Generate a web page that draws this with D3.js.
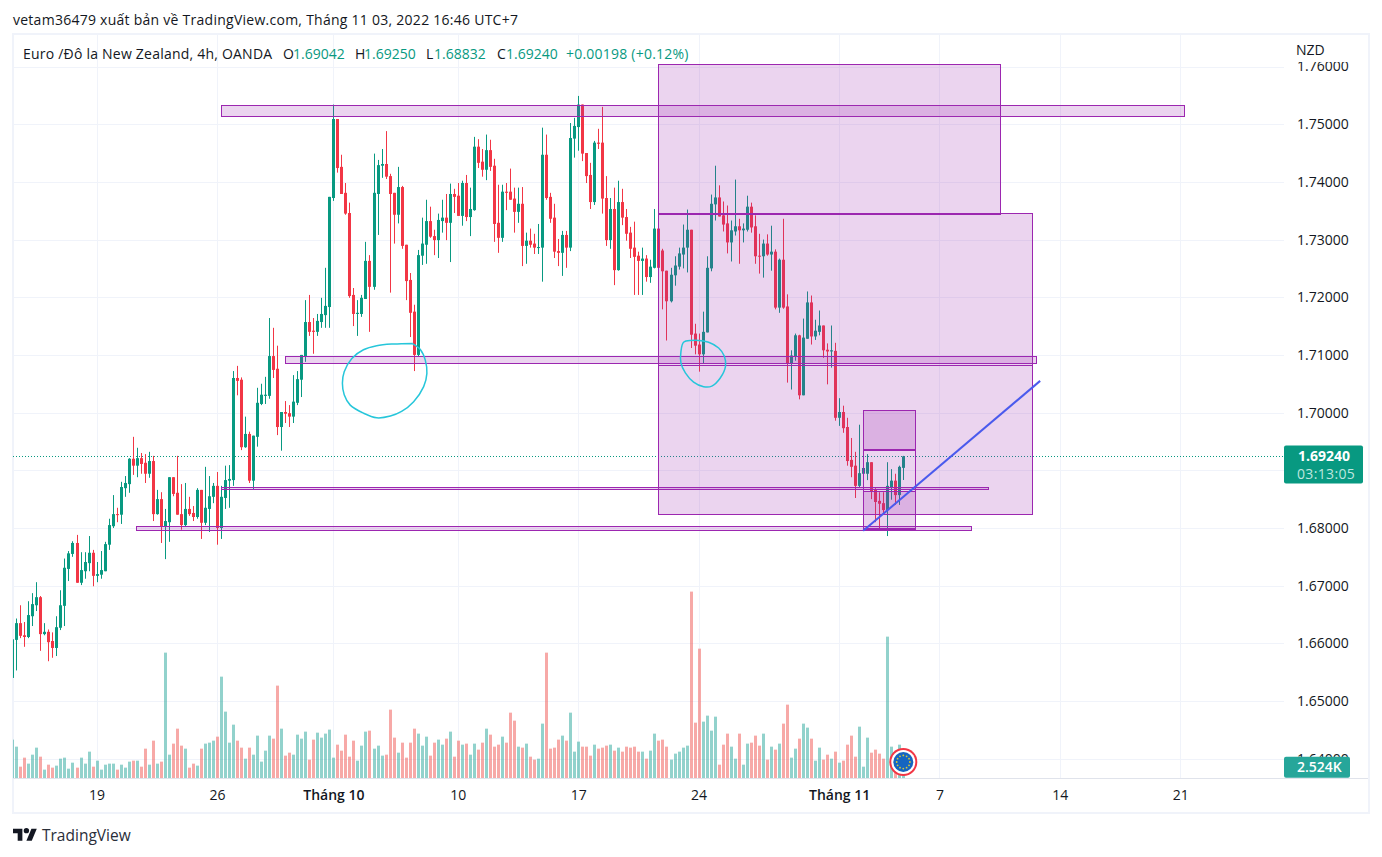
<!DOCTYPE html>
<html>
<head>
<meta charset="utf-8">
<title>EURNZD 4h</title>
<script src="https://cdn.jsdelivr.net/npm/d3@7/dist/d3.min.js"></script>
<style>
	html, body { margin: 0; padding: 0; background: #fff; }
	svg { display: block; }
	text { font-family: "Open Sans", sans-serif; fill: #131722; }
	.axis .domain { display: none; }
	.grid .domain { display: none; }
	.grid text { display: none; }
	.grid line { stroke: #f0f3fa; stroke-width: 1; shape-rendering: crispEdges; }
	.axis line { display: none; }
	.zone { shape-rendering: crispEdges; }
</style>
</head>
<body>
<div id="graphs"></div>
<script>
// bar 0 is the one cut off by the left edge of the pane, bar 222 is the live one
var opens = [
	1.6540,1.6606,1.6635,1.6614,1.6611,1.6647,1.6666,1.6680,1.6616,1.6620,
	1.6604,1.6592,1.6627,1.6665,1.6729,1.6755,1.6774,1.6705,1.6725,1.6739,
	1.6757,1.6717,1.6719,1.6725,1.6771,1.6803,1.6824,1.6823,1.6869,1.6876,
	1.6920,1.6908,1.6921,1.6913,1.6894,1.6916,1.6824,1.6850,1.6803,1.6810,
	1.6888,1.6861,1.6824,1.6805,1.6833,1.6826,1.6819,1.6866,1.6809,1.6833,
	1.6854,1.6873,1.6800,1.6852,1.6882,1.6883,1.7060,1.7057,1.6940,1.6963,
	1.6882,1.6958,1.7015,1.7029,1.7029,1.7098,1.7076,1.6975,1.7001,1.6999,
	1.6993,1.7017,1.7057,1.7098,1.7157,1.7142,1.7140,1.7157,1.7169,1.7183,
	1.7372,1.7509,1.7426,1.7381,1.7346,1.7204,1.7171,1.7171,1.7197,1.7263,
	1.7218,1.7379,1.7428,1.7431,1.7410,1.7381,1.7343,1.7391,1.7291,1.7230,
	1.7175,1.7100,1.7272,1.7291,1.7332,1.7306,1.7299,1.7332,1.7338,1.7329,
	1.7379,1.7376,1.7341,1.7398,1.7339,1.7351,1.7461,1.7435,1.7421,1.7455,
	1.7428,1.7329,1.7303,1.7383,1.7383,1.7371,1.7348,1.7362,1.7289,1.7298,
	1.7293,1.7286,1.7286,1.7447,1.7374,1.7338,1.7280,1.7277,1.7308,1.7286,
	1.7475,1.7495,1.7534,1.7450,1.7412,1.7365,1.7468,1.7468,1.7372,1.7299,
	1.7353,1.7247,1.7365,1.7339,1.7312,1.7286,1.7272,1.7263,1.7267,1.7235,
	1.7251,1.7319,1.7281,1.7246,1.7193,1.7238,1.7253,1.7274,1.7286,1.7317,
	1.7137,1.7118,1.7101,1.7139,1.7250,1.7361,1.7373,1.7342,1.7328,1.7295,
	1.7314,1.7323,1.7316,1.7317,1.7357,1.7323,1.7272,1.7271,1.7293,1.7274,
	1.7279,1.7182,1.7265,1.7184,1.7085,1.7097,1.7134,1.7030,1.7128,1.7191,
	1.7132,1.7140,1.7151,1.7109,1.7106,1.7107,1.6991,1.7001,1.6975,1.6918,
	1.6908,1.6873,1.6894,1.6894,1.6914,1.6866,1.6847,1.6843,1.6831,1.6871,
	1.6882,1.6857,1.69042
];
var highs = [
	1.6607,1.6643,1.6666,1.6637,1.6673,1.6687,1.6706,1.6682,1.6635,1.6624,
	1.6619,1.6647,1.6692,1.6747,1.6760,1.6777,1.6788,1.6758,1.6758,1.6786,
	1.6762,1.6741,1.6760,1.6776,1.6816,1.6857,1.6835,1.6880,1.6890,1.6921,
	1.6958,1.6939,1.6930,1.6928,1.6932,1.6925,1.6866,1.6862,1.6833,1.6888,
	1.6888,1.6925,1.6876,1.6878,1.6854,1.6838,1.6869,1.6866,1.6906,1.6890,
	1.6878,1.6897,1.6873,1.6908,1.6909,1.7072,1.7081,1.7061,1.6993,1.6967,
	1.6960,1.7043,1.7050,1.7062,1.7164,1.7147,1.7116,1.7001,1.7020,1.7013,
	1.7065,1.7072,1.7100,1.7195,1.7204,1.7164,1.7171,1.7199,1.7251,1.7374,
	1.7534,1.7509,1.7447,1.7398,1.7364,1.7216,1.7195,1.7204,1.7296,1.7273,
	1.7449,1.7438,1.7457,1.7488,1.7414,1.7381,1.7426,1.7393,1.7291,1.7242,
	1.7187,1.7282,1.7338,1.7369,1.7357,1.7317,1.7345,1.7369,1.7379,1.7397,
	1.7388,1.7398,1.7402,1.7412,1.7390,1.7478,1.7474,1.7457,1.7482,1.7473,
	1.7440,1.7395,1.7395,1.7398,1.7423,1.7390,1.7390,1.7391,1.7312,1.7319,
	1.7310,1.7327,1.7494,1.7482,1.7381,1.7362,1.7301,1.7315,1.7315,1.7502,
	1.7511,1.7549,1.7534,1.7450,1.7433,1.7471,1.7492,1.7530,1.7410,1.7372,
	1.7390,1.7402,1.7388,1.7353,1.7322,1.7331,1.7279,1.7286,1.7273,1.7265,
	1.7353,1.7329,1.7284,1.7246,1.7251,1.7271,1.7286,1.7326,1.7352,1.7317,
	1.7154,1.7137,1.7175,1.7271,1.7378,1.7428,1.7394,1.7366,1.7359,1.7333,
	1.7404,1.7336,1.7328,1.7376,1.7364,1.7342,1.7310,1.7300,1.7309,1.7324,
	1.7283,1.7267,1.7336,1.7205,1.7108,1.7137,1.7135,1.7163,1.7210,1.7203,
	1.7161,1.7177,1.7151,1.7120,1.7151,1.7121,1.7025,1.7012,1.6991,1.6956,
	1.6932,1.6979,1.6908,1.6928,1.6914,1.6869,1.6862,1.6862,1.6914,1.6902,
	1.6894,1.6908,1.69250
];
var lows = [
	1.6538,1.6553,1.6609,1.6594,1.6609,1.6630,1.6656,1.6587,1.6614,1.6569,
	1.6575,1.6578,1.6623,1.6630,1.6708,1.6750,1.6705,1.6701,1.6712,1.6725,
	1.6699,1.6706,1.6712,1.6725,1.6762,1.6800,1.6810,1.6807,1.6854,1.6861,
	1.6892,1.6888,1.6894,1.6878,1.6887,1.6812,1.6823,1.6774,1.6746,1.6776,
	1.6855,1.6823,1.6797,1.6803,1.6821,1.6812,1.6816,1.6781,1.6805,1.6793,
	1.6843,1.6771,1.6781,1.6833,1.6835,1.6873,1.7030,1.6935,1.6939,1.6878,
	1.6866,1.6941,1.7013,1.7015,1.7024,1.7060,1.6961,1.6934,1.6982,1.6975,
	1.6982,1.7013,1.7027,1.7088,1.7133,1.7102,1.7133,1.7147,1.7147,1.7147,
	1.7367,1.7416,1.7379,1.7343,1.7199,1.7150,1.7133,1.7166,1.7197,1.7140,
	1.7213,1.7308,1.7407,1.7405,1.7208,1.7293,1.7328,1.7284,1.7195,1.7131,
	1.7072,1.7098,1.7256,1.7258,1.7303,1.7273,1.7268,1.7312,1.7299,1.7261,
	1.7346,1.7341,1.7324,1.7332,1.7306,1.7350,1.7424,1.7409,1.7403,1.7419,
	1.7296,1.7277,1.7296,1.7351,1.7369,1.7312,1.7329,1.7254,1.7258,1.7286,
	1.7275,1.7275,1.7227,1.7369,1.7329,1.7268,1.7254,1.7237,1.7251,1.7280,
	1.7442,1.7454,1.7436,1.7398,1.7353,1.7360,1.7457,1.7345,1.7289,1.7284,
	1.7221,1.7246,1.7325,1.7298,1.7268,1.7204,1.7204,1.7204,1.7227,1.7225,
	1.7250,1.7250,1.7179,1.7125,1.7191,1.7220,1.7248,1.7250,1.7243,1.7112,
	1.7101,1.7071,1.7085,1.7139,1.7245,1.7333,1.7340,1.7314,1.7276,1.7262,
	1.7307,1.7258,1.7295,1.7314,1.7312,1.7258,1.7241,1.7234,1.7272,1.7246,
	1.7179,1.7173,1.7180,1.7052,1.7040,1.7090,1.7023,1.7030,1.7128,1.7118,
	1.7126,1.7134,1.7095,1.7049,1.7078,1.6986,1.6977,1.6965,1.6908,1.6888,
	1.6852,1.6871,1.6892,1.6883,1.6850,1.6810,1.6797,1.6823,1.6786,1.6849,
	1.6840,1.6840,1.68832
];
var closes = [
	1.6607,1.6635,1.6613,1.6611,1.6649,1.6668,1.6680,1.6616,1.6620,1.6602,
	1.6592,1.6628,1.6666,1.6731,1.6756,1.6774,1.6705,1.6727,1.6741,1.6757,
	1.6717,1.6720,1.6727,1.6772,1.6805,1.6824,1.6823,1.6871,1.6878,1.6920,
	1.6908,1.6921,1.6911,1.6894,1.6916,1.6824,1.6850,1.6803,1.6812,1.6888,
	1.6859,1.6823,1.6805,1.6833,1.6824,1.6819,1.6866,1.6809,1.6835,1.6855,
	1.6873,1.6800,1.6854,1.6883,1.6885,1.7060,1.7055,1.6940,1.6963,1.6882,
	1.6960,1.7017,1.7031,1.7031,1.7098,1.7074,1.6975,1.7001,1.6998,1.6993,
	1.7019,1.7058,1.7100,1.7157,1.7140,1.7140,1.7159,1.7171,1.7185,1.7374,
	1.7509,1.7424,1.7379,1.7345,1.7202,1.7171,1.7173,1.7199,1.7263,1.7218,
	1.7381,1.7429,1.7431,1.7409,1.7379,1.7343,1.7391,1.7289,1.7228,1.7173,
	1.7100,1.7273,1.7293,1.7332,1.7305,1.7299,1.7334,1.7338,1.7329,1.7379,
	1.7374,1.7341,1.7398,1.7339,1.7353,1.7461,1.7433,1.7421,1.7455,1.7426,
	1.7327,1.7303,1.7383,1.7381,1.7369,1.7348,1.7362,1.7289,1.7298,1.7291,
	1.7286,1.7287,1.7447,1.7372,1.7336,1.7279,1.7277,1.7308,1.7286,1.7476,
	1.7497,1.7534,1.7449,1.7410,1.7365,1.7468,1.7466,1.7371,1.7299,1.7353,
	1.7247,1.7365,1.7338,1.7310,1.7284,1.7270,1.7263,1.7267,1.7235,1.7253,
	1.7319,1.7251,1.7245,1.7193,1.7239,1.7255,1.7276,1.7286,1.7317,1.7135,
	1.7116,1.7101,1.7140,1.7251,1.7362,1.7373,1.7340,1.7326,1.7295,1.7316,
	1.7323,1.7316,1.7319,1.7357,1.7321,1.7271,1.7271,1.7293,1.7274,1.7279,
	1.7182,1.7265,1.7182,1.7085,1.7099,1.7134,1.7030,1.7130,1.7191,1.7132,
	1.7142,1.7151,1.7108,1.7106,1.7108,1.6991,1.7001,1.6973,1.6916,1.6906,
	1.6873,1.6895,1.6904,1.6914,1.6864,1.6845,1.6842,1.6831,1.6873,1.6882,
	1.6857,1.6906,1.69240
];
// thousands of ticks
var volumes = [
	8.63,7.05,2.55,4.58,3.23,5.25,6.83,4.80,1.88,3.00,
	2.33,2.78,4.35,4.58,2.10,3.45,2.33,4.58,3.23,5.93,
	2.55,3.90,1.88,3.00,3.23,3.23,1.88,3.00,2.33,3.68,
	3.90,3.90,2.55,6.60,3.00,8.40,3.23,3.68,28.20,5.25,
	7.73,11.10,7.28,6.60,2.33,3.23,2.78,6.60,7.73,7.95,
	8.40,9.30,22.80,14.93,7.95,12.00,8.40,6.83,4.35,6.83,
	5.25,9.53,3.68,6.15,9.53,8.85,20.78,11.10,5.03,5.70,
	5.25,9.75,8.85,10.43,4.13,8.63,10.20,9.08,9.98,10.88,
	4.58,7.50,6.15,9.75,4.80,8.40,3.90,7.28,10.43,10.65,
	6.60,7.28,5.03,5.25,15.38,9.08,5.70,7.95,4.58,7.95,
	11.10,9.98,7.28,9.30,5.03,7.95,8.63,7.50,8.85,10.43,
	4.80,8.40,7.50,7.73,5.25,7.73,6.38,7.95,11.10,9.75,
	7.05,7.50,9.30,7.95,14.70,12.90,7.05,6.83,7.73,4.80,
	4.13,4.35,12.23,28.20,6.60,6.83,8.63,9.53,8.40,14.70,
	5.93,8.18,7.05,7.05,5.03,7.50,6.60,6.83,7.28,7.50,
	6.15,6.83,5.93,7.05,6.83,7.05,5.93,5.93,4.35,6.15,
	9.98,8.40,8.63,7.05,4.13,5.48,5.93,6.83,7.28,41.93,
	12.45,29.10,12.68,14.03,10.65,13.80,3.00,7.50,9.98,7.05,
	4.35,9.98,3.00,7.73,7.95,9.53,7.28,9.98,4.13,7.05,
	6.38,7.73,12.23,16.50,4.58,6.60,8.85,12.23,11.33,8.85,
	3.90,6.83,4.13,5.25,4.35,5.93,3.45,3.90,7.50,9.53,
	4.80,11.55,2.55,9.08,5.70,6.38,5.48,4.35,31.80,7.05,
	5.93,7.50,2.524
];

var priceTicks = [1.64, 1.65, 1.66, 1.67, 1.68, 1.69, 1.70, 1.71, 1.72, 1.73, 1.74, 1.75, 1.76];
var timeTicks  = [21, 51, 80, 111, 141, 171, 206, 231, 261, 291];
var timeLabels = ["19", "26", "Tháng 10", "10", "17", "24", "Tháng 11", "7", "14", "21"];

// drawings, in bar number and price
var boxes = [
	{x0: 161, x1: 246.2, top: 1.7603, bottom: 1.73435, fill: 0.2},
	{x0: 161, x1: 254.2, top: 1.7346, bottom: 1.6823, fill: 0.2},
	{x0: 161, x1: 254.2, top: 1.70855, bottom: 1.70825, fill: 0},
	{x0: 52.1, x1: 292.1, top: 1.7532, bottom: 1.7514, fill: 0.2},
	{x0: 68, x1: 255.3, top: 1.7098, bottom: 1.7085, fill: 0.2},
	{x0: 52.2, x1: 243.2, top: 1.6871, bottom: 1.6866, fill: 0.2},
	{x0: 30.9, x1: 239, top: 1.6803, bottom: 1.6796, fill: 0.2},
	{x0: 212, x1: 225.1, top: 1.7004, bottom: 1.6936, fill: 0.2},
	{x0: 212, x1: 225.1, top: 1.69345, bottom: 1.6797, fill: 0},
	{x0: 212, x1: 225.1, top: 1.6864, bottom: 1.67985, fill: 0.2}
];
var trendLine = [[212, 1.6795], [256.1, 1.7055]];
var ringLeft = [[99.8,1.7120],[95,1.7119],[90.8,1.7116],[87.5,1.7109],[84.6,1.7094],[82.7,1.7071],[82.25,1.7051],[82.7,1.7031],[84.2,1.7013],[87.5,1.6999],[90.8,1.6991],[94.2,1.6994],[97,1.7002],[100,1.7019],[102.5,1.7045],[103.3,1.7068],[102.9,1.7091],[101.7,1.7109],[99.8,1.7119]];
var ringRight = [[168.9,1.7125],[167.25,1.7122],[166.6,1.7106],[166.6,1.7086],[167.7,1.7069],[169.75,1.7053],[172.25,1.7045],[174.3,1.7046],[176.4,1.7060],[177.7,1.7080],[177.4,1.7098],[176,1.7112],[173.5,1.7122],[171,1.7125],[168.9,1.7125]];

var upColor = "#089981", downColor = "#f23645";

var width = 1382, height = 857;
var pane = {left: 13, right: 1284, top: 35, bottom: 778};

var svg = d3.select("#graphs").append("svg")
	.attr("width", width)
	.attr("height", height);

var xScale = d3.scaleLinear().domain([1, 222]).range([16.3, 903.3]);
var yScale = d3.scaleLinear().domain([1.64, 1.76]).range([758.7, 66.5]);
var volScale = d3.scaleLinear().domain([0, 42]).range([778, 591.3]);

function snap(i) { return Math.round(xScale(i)); }

function drawGrid() {
	svg.append("g").attr("class", "grid")
		.attr("transform", "translate(" + pane.left + ",0)")
		.call(d3.axisRight(yScale).tickValues(priceTicks).tickSize(pane.right - pane.left));
	svg.append("g").attr("class", "grid")
		.attr("transform", "translate(0," + pane.bottom + ")")
		.call(d3.axisTop(xScale).tickValues(timeTicks).tickSize(pane.bottom - pane.top));
}

function drawVolumes(g) {
	g.selectAll(".vol").data(volumes).enter().append("rect")
		.attr("class", "vol")
		.attr("x", function(d, i) { return snap(i) - 1; })
		.attr("width", 3)
		.attr("y", function(d) { return volScale(d); })
		.attr("height", function(d) { return volScale(0) - volScale(d); })
		.attr("fill", function(d, i) { return closes[i] >= opens[i] ? "rgba(38,166,154,0.5)" : "rgba(239,83,80,0.5)"; });
}

function drawCandles(g) {
	var bars = g.selectAll(".bar").data(opens).enter().append("g").attr("class", "bar")
		.attr("fill", function(d, i) { return closes[i] >= opens[i] ? upColor : downColor; });
	bars.append("rect")
		.attr("x", function(d, i) { return snap(i); })
		.attr("width", 1)
		.attr("y", function(d, i) { return yScale(highs[i]); })
		.attr("height", function(d, i) { return yScale(lows[i]) - yScale(highs[i]); });
	bars.append("rect")
		.attr("x", function(d, i) { return snap(i) - 1; })
		.attr("width", 3)
		.attr("y", function(d, i) { return yScale(Math.max(opens[i], closes[i])); })
		.attr("height", function(d, i) { return Math.max(1, Math.abs(yScale(opens[i]) - yScale(closes[i]))); });
}

function drawDrawings(g) {
	g.selectAll(".zone").data(boxes).enter().append("rect")
		.attr("class", "zone")
		.attr("x", function(d) { return xScale(d.x0); })
		.attr("width", function(d) { return xScale(d.x1) - xScale(d.x0); })
		.attr("y", function(d) { return yScale(d.top); })
		.attr("height", function(d) { return yScale(d.bottom) - yScale(d.top); })
		.attr("fill", "#9c27b0")
		.attr("fill-opacity", function(d) { return d.fill; })
		.attr("stroke", "#9c27b0")
		.attr("stroke-width", 1);

	var line = d3.line()
		.x(function(d) { return xScale(d[0]); })
		.y(function(d) { return yScale(d[1]); });

	g.append("path").attr("d", line(trendLine))
		.attr("fill", "none").attr("stroke", "#4a5aed").attr("stroke-width", 2);

	var hand = d3.line()
		.x(function(d) { return xScale(d[0]); })
		.y(function(d) { return yScale(d[1]); })
		.curve(d3.curveCatmullRom);
	[ringLeft, ringRight].forEach(function(r) {
		g.append("path").attr("d", hand(r))
			.attr("fill", "none").attr("stroke", "#26c6da").attr("stroke-width", 1.5);
	});
}

function drawPriceLine(g) {
	g.append("line")
		.attr("x1", pane.left).attr("x2", pane.right)
		.attr("y1", Math.round(yScale(closes[222])) + 0.5).attr("y2", Math.round(yScale(closes[222])) + 0.5)
		.attr("stroke", upColor).attr("stroke-width", 1).attr("stroke-dasharray", "1 2");
}

function drawFlag() {
	var cx = xScale(222), cy = 762;
	var flag = svg.append("g").attr("transform", "translate(" + cx + "," + cy + ")");
	flag.append("circle").attr("r", 14).attr("fill", "#f23645");
	flag.append("circle").attr("r", 12).attr("fill", "#fff");
	flag.append("circle").attr("r", 10).attr("fill", "#1565c0");
	flag.selectAll(".star").data(d3.range(12)).enter().append("circle")
		.attr("cx", function(d) { return 6.6 * Math.cos(d * Math.PI / 6); })
		.attr("cy", function(d) { return 6.6 * Math.sin(d * Math.PI / 6); })
		.attr("r", 0.9)
		.attr("fill", "#d7c93a");
}

function drawAxes() {
	// 1.69000 sits fully under the price tag, so it gets no text
	var py = svg.append("g").attr("class", "axis")
		.attr("transform", "translate(" + pane.right + ",0)")
		.call(d3.axisRight(yScale).tickValues(priceTicks)
			.tickFormat(function(d) { return d === 1.69 ? "" : d3.format(".5f")(d); })
			.tickSize(0).tickPadding(13));
	py.selectAll("text").style("font-size", "14px").attr("fill", "#131722");

	// the scale column paints over the top tick, that is how the original looks
	svg.append("rect").attr("x", pane.right).attr("y", 36).attr("width", 80).attr("height", 26).attr("fill", "#fff");
	svg.append("text").attr("x", 1296).attr("y", 55).style("font-size", "14px").text("NZD");

	var px = svg.append("g").attr("class", "axis")
		.attr("transform", "translate(0," + pane.bottom + ")")
		.call(d3.axisBottom(xScale).tickValues(timeTicks)
			.tickFormat(function(d, i) { return timeLabels[i]; }).tickSize(0).tickPadding(12));
	px.selectAll("text")
		.style("font-size", "14px")
		.style("font-weight", function(d, i) { return timeLabels[i].length > 2 ? 600 : 400; });

	// base line of the pane
	svg.append("rect").attr("x", pane.left).attr("y", pane.bottom).attr("width", 1355).attr("height", 1).attr("fill", "#e0e3eb");
}

function drawTags() {
	var y = yScale(closes[222]);
	var tag = svg.append("g");
	tag.append("rect").attr("x", pane.right).attr("y", y - 11).attr("width", 79).attr("height", 38).attr("rx", 2).attr("fill", upColor);
	tag.append("text").attr("x", 1298).attr("y", y + 5).attr("font-size", 14).attr("font-weight", 700).style("fill", "#fff").text(d3.format(".5f")(closes[222]));
	tag.append("text").attr("x", 1297).attr("y", y + 23).attr("font-size", 14).style("letter-spacing", "0.35px").style("fill", "#bfe6df").text("03:13:05");

	var vy = volScale(volumes[222]);
	var vtag = svg.append("g");
	vtag.append("rect").attr("x", pane.right).attr("y", vy - 10).attr("width", 66).attr("height", 21).attr("rx", 2).attr("fill", "#26a69a");
	vtag.append("text").attr("x", 1297).attr("y", vy + 5).attr("font-size", 14).attr("font-weight", 600).style("fill", "#fff").text(volumes[222].toFixed(3) + "K");
}

function drawHeader() {
	svg.append("text").attr("x", 13).attr("y", 25).style("font-size", "14px").style("letter-spacing", "0.26px")
		.text("vetam36479 xuất bản về TradingView.com, Tháng 11 03, 2022 16:46 UTC+7");

	var legend = [
		{x: 23, t: "Euro /Đô la New Zealand, 4h, OANDA", c: "#131722"},
		{x: 283, t: "O", c: "#131722"}, {x: 293, t: "1.69042", c: upColor},
		{x: 355, t: "H", c: "#131722"}, {x: 364, t: "1.69250", c: upColor},
		{x: 426, t: "L", c: "#131722"}, {x: 434, t: "1.68832", c: upColor},
		{x: 497, t: "C", c: "#131722"}, {x: 506, t: "1.69240", c: upColor},
		{x: 566, t: "+0.00198 (+0.12%)", c: upColor}
	];
	svg.selectAll(".leg").data(legend).enter().append("text")
		.attr("class", "leg")
		.attr("x", function(d) { return d.x; })
		.attr("y", 59)
		.style("font-size", "14px")
		.style("letter-spacing", function(d) { return d.t.length > 8 ? "0.22px" : "0"; })
		.style("fill", function(d) { return d.c; })
		.text(function(d) { return d.t; });
}

function drawLogo() {
	var logo = svg.append("g").attr("transform", "translate(13,826) scale(0.67)").attr("fill", "#131722");
	logo.append("path").attr("d", "M14 22H7V11H0V4h14v18zM28 22h-8l7.5-18h8L28 22z");
	logo.append("circle").attr("cx", 20).attr("cy", 7).attr("r", 4);
	svg.append("text").attr("x", 42).attr("y", 841).style("font-size", "15.5px").style("fill", "#2a2e39").text("TradingView");
}

function loadGraph() {
	svg.append("clipPath").attr("id", "pane").append("rect")
		.attr("x", pane.left).attr("y", pane.top)
		.attr("width", pane.right - pane.left).attr("height", pane.bottom - pane.top);

	// frame around the chart
	svg.append("rect").attr("x", 13).attr("y", 34).attr("width", 1356).attr("height", 779)
		.attr("fill", "none").attr("stroke", "#f0f3fa").attr("stroke-width", 2);

	drawGrid();
	var g = svg.append("g").attr("clip-path", "url(#pane)");
	drawVolumes(g);
	drawPriceLine(g);
	drawCandles(g);
	drawDrawings(g);
	drawFlag();

	drawAxes();
	drawTags();
	drawHeader();
	drawLogo();
}
loadGraph();
</script>
</body>
</html>
